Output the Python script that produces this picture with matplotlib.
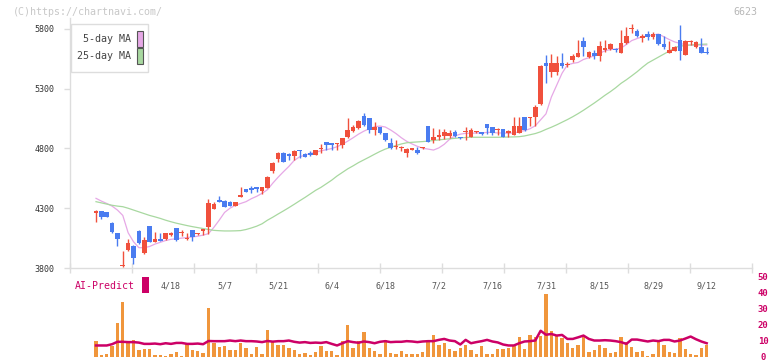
import numpy as np
import matplotlib
matplotlib.use("Agg")
import matplotlib.pyplot as plt
from matplotlib.patches import Rectangle

plt.rcParams['font.family'] = 'DejaVu Sans Mono'

# ---- data ----
date_labels = ['4/18', '5/7', '5/21', '6/4', '6/18', '7/2', '7/16', '7/31', '8/15', '8/29', '9/12']
label_idx = [14, 24, 34, 44, 54, 64, 74, 84, 94, 104, 114]

opens = [4263, 4277, 4266, 4179, 4090, 3814, 3951, 3984, 4110, 3928,
         4151, 4020, 4040, 4040, 4076, 4132, 4093, 4043, 4118, 4082,
         4112, 4145, 4294, 4369, 4360, 4355, 4321, 4398, 4461, 4469,
         4475, 4447, 4472, 4614, 4712, 4765, 4754, 4737, 4782, 4754,
         4759, 4746, 4796, 4853, 4845, 4835, 4829, 4899, 4946, 4969,
         5075, 5053, 4955, 4977, 4927, 4845, 4816, 4800, 4765, 4791,
         4787, 4800, 4988, 4871, 4894, 4907, 4905, 4941, 4890, 4934,
         4899, 4936, 4936, 5005, 4980, 4953, 4961, 4927, 4913, 4933,
         5061, 5055, 5061, 5172, 5518, 5443, 5443, 5518, 5497, 5541,
         5569, 5696, 5569, 5602, 5574, 5628, 5630, 5626, 5602, 5680,
         5798, 5783, 5722, 5756, 5736, 5756, 5674, 5602, 5619, 5708,
         5582, 5692, 5653, 5653, 5606]
closes = [4280, 4229, 4229, 4101, 4045, 3820, 4012, 3881, 4012, 4034,
          4020, 4040, 4030, 4090, 4095, 4034, 4097, 4047, 4062, 4086,
          4124, 4346, 4334, 4355, 4313, 4319, 4350, 4402, 4439, 4453,
          4461, 4475, 4564, 4681, 4765, 4690, 4737, 4779, 4777, 4732,
          4745, 4787, 4800, 4829, 4829, 4839, 4887, 4955, 4982, 5030,
          4997, 4955, 4982, 4927, 4871, 4802, 4820, 4804, 4793, 4795,
          4760, 4804, 4857, 4894, 4913, 4941, 4933, 4907, 4886, 4938,
          4955, 4944, 4919, 4974, 4933, 4963, 4899, 4949, 4988, 4988,
          4955, 5060, 5145, 5490, 5490, 5518, 5518, 5490, 5501, 5574,
          5602, 5648, 5611, 5574, 5657, 5632, 5674, 5622, 5680, 5741,
          5802, 5741, 5741, 5732, 5758, 5672, 5653, 5624, 5653, 5619,
          5702, 5696, 5694, 5602, 5597]
highs = [4282, 4280, 4268, 4182, 4095, 3942, 4040, 3990, 4115, 4062,
         4155, 4100, 4095, 4095, 4105, 4135, 4115, 4090, 4122, 4090,
         4128, 4375, 4355, 4400, 4365, 4360, 4355, 4480, 4465, 4485,
         4480, 4480, 4570, 4690, 4770, 4770, 4760, 4785, 4785, 4760,
         4775, 4790, 4837, 4856, 4848, 4845, 4890, 5054, 5000, 5035,
         5095, 5058, 5024, 4980, 4930, 4887, 4870, 4820, 4800, 4800,
         4810, 4815, 4990, 4970, 4961, 4961, 4955, 4955, 4895, 4982,
         4970, 4950, 4940, 5008, 4983, 4970, 4965, 4952, 5061, 5061,
         5063, 5062, 5164, 5495, 5582, 5591, 5574, 5602, 5520, 5590,
         5704, 5737, 5620, 5625, 5699, 5704, 5680, 5640, 5788, 5813,
         5842, 5800, 5760, 5785, 5775, 5760, 5740, 5700, 5660, 5834,
         5708, 5708, 5700, 5727, 5653]
lows = [4187, 4210, 4225, 4090, 3984, 3806, 3945, 3833, 4005, 3920,
        4015, 4015, 4025, 4035, 4070, 4030, 4070, 4035, 4030, 4080,
        4075, 4084, 4290, 4350, 4310, 4315, 4318, 4390, 4435, 4425,
        4440, 4420, 4468, 4597, 4690, 4685, 4700, 4700, 4718, 4730,
        4740, 4742, 4760, 4790, 4790, 4790, 4800, 4890, 4935, 4960,
        4990, 4927, 4913, 4920, 4865, 4798, 4795, 4780, 4726, 4790,
        4758, 4795, 4855, 4849, 4871, 4880, 4890, 4900, 4880, 4871,
        4895, 4930, 4913, 4919, 4913, 4913, 4895, 4899, 4910, 4930,
        4950, 4988, 4988, 5168, 5346, 5396, 5415, 5473, 5480, 5520,
        5565, 5574, 5560, 5545, 5535, 5610, 5625, 5610, 5598, 5676,
        5764, 5735, 5690, 5710, 5720, 5670, 5630, 5597, 5615, 5541,
        5580, 5665, 5640, 5600, 5590]

ma5 = [4383, 4360, 4340, 4318, 4285, 4240, 4095, 4020, 3970, 3970,
       3980, 4000, 4015, 4030, 4040, 4045, 4050, 4055, 4060, 4066,
       4075, 4088, 4140, 4200, 4265, 4300, 4325, 4340, 4355, 4380,
       4400, 4425, 4455, 4510, 4560, 4606, 4650, 4700, 4730, 4745,
       4758, 4770, 4780, 4790, 4800, 4815, 4835, 4862, 4890, 4920,
       4945, 4965, 4982, 4988, 4980, 4955, 4925, 4890, 4860, 4838,
       4818, 4802, 4795, 4787, 4805, 4835, 4877, 4905, 4920, 4927,
       4927, 4930, 4930, 4935, 4935, 4930, 4930, 4927, 4930, 4940,
       4950, 4965, 4990, 5040, 5090, 5230, 5330, 5430, 5500, 5512,
       5520, 5545, 5560, 5575, 5595, 5618, 5628, 5632, 5640, 5670,
       5703, 5720, 5735, 5742, 5750, 5758, 5735, 5712, 5692, 5680,
       5668, 5665, 5665, 5666, 5666]
ma25 = [4355, 4345, 4335, 4325, 4318, 4313, 4300, 4285, 4270, 4255,
        4240, 4228, 4215, 4200, 4187, 4175, 4165, 4155, 4146, 4138,
        4130, 4122, 4115, 4112, 4110, 4110, 4111, 4113, 4122, 4135,
        4150, 4170, 4200, 4225, 4252, 4278, 4305, 4333, 4362, 4390,
        4420, 4450, 4475, 4505, 4535, 4570, 4600, 4630, 4655, 4682,
        4705, 4728, 4752, 4775, 4795, 4810, 4825, 4838, 4848, 4852,
        4855, 4858, 4862, 4867, 4872, 4877, 4881, 4885, 4889, 4892,
        4894, 4894, 4894, 4894, 4894, 4894, 4895, 4896, 4897, 4899,
        4905, 4915, 4925, 4940, 4960, 4978, 4998, 5020, 5042, 5066,
        5092, 5120, 5150, 5180, 5212, 5245, 5275, 5308, 5345, 5375,
        5408, 5442, 5480, 5515, 5540, 5565, 5590, 5615, 5645, 5656,
        5662, 5666, 5670, 5672, 5674]

ai_bars = [9.7, 1.5, 1.7, 6.6, 21.0, 34.4, 8.6, 10.9, 4.1, 4.8,
           4.8, 1.0, 1.0, 0.4, 1.7, 3.1, 0.6, 8.6, 4.1, 3.5,
           2.5, 30.9, 8.6, 6.2, 6.6, 4.1, 4.1, 8.6, 5.6, 1.7,
           6.2, 1.7, 17.1, 10.3, 7.2, 7.2, 5.6, 4.5, 1.7, 2.5,
           1.0, 3.1, 6.6, 3.5, 3.5, 1.0, 10.3, 20.2, 5.8, 10.3,
           15.4, 5.6, 3.5, 1.7, 10.9, 2.5, 1.7, 3.5, 1.7, 1.7,
           1.7, 3.1, 10.3, 14.0, 7.2, 8.6, 5.2, 3.5, 5.8, 7.8,
           4.1, 1.7, 6.6, 1.7, 1.7, 4.8, 4.8, 5.8, 7.8, 12.3,
           5.2, 14.0, 12.8, 13.4, 39.5, 16.5, 13.4, 11.7, 8.6, 5.6,
           7.2, 12.8, 3.1, 4.1, 7.8, 5.8, 2.5, 3.1, 12.8, 9.3,
           6.2, 3.1, 3.7, 0.4, 1.7, 9.7, 7.2, 3.1, 2.5, 11.7,
           5.2, 1.7, 1.0, 5.8, 7.2]
ai_line = [7.2, 7.2, 7.2, 8.0, 9.5, 9.5, 9.3, 9.3, 9.0, 8.2,
           8.2, 8.4, 8.0, 8.6, 8.2, 8.8, 8.8, 8.2, 8.2, 8.4,
           8.0, 10.0, 9.9, 9.9, 9.9, 10.3, 9.9, 10.3, 9.9, 9.9,
           9.7, 9.3, 10.0, 9.6, 9.9, 9.9, 10.3, 9.5, 9.0, 9.3,
           8.8, 9.0, 8.8, 9.3, 8.2, 7.2, 8.6, 9.9, 9.3, 8.9,
           9.7, 9.3, 8.6, 9.5, 9.9, 9.3, 9.5, 9.5, 9.9, 9.7,
           9.3, 9.7, 9.9, 9.9, 10.7, 11.3, 10.3, 9.9, 7.8, 10.7,
           8.6, 9.3, 9.9, 10.7, 9.7, 9.1, 7.8, 7.2, 7.2, 8.6,
           9.7, 9.9, 10.3, 16.4, 13.9, 14.4, 13.4, 13.8, 11.3, 11.3,
           12.3, 13.4, 11.3, 10.3, 10.3, 10.5, 10.3, 9.9, 9.3, 8.2,
           10.9, 10.9, 10.3, 9.7, 10.3, 9.9, 10.7, 10.7, 9.7, 10.3,
           11.5, 12.8, 11.1, 9.7, 8.6]

# ---- styling ----
UP = '#f0503c'
DOWN = '#4a7cf0'
C_MA5 = '#e6a8e6'
C_MA25 = '#a8d8a0'
C_BAR = '#f0963c'
C_AI = '#cc0066'
GRID = '#dddddd'

W, H = 772, 361
fig = plt.figure(figsize=(W / 100, H / 100), dpi=100)

x = np.arange(len(closes))
xlim = ((70 - 96) / 5.357, (752 - 96) / 5.357)

# lower AI-Predict panel (drawn first, transparent background)
ax2 = fig.add_axes([70 / W, 1 - 357 / H, 682 / W, 80 / H])
ax2.patch.set_visible(False)
ax2.set_xlim(*xlim)
ax2.set_ylim(0, 50)
ax2.bar(x, ai_bars, width=0.62, color=C_BAR, linewidth=0, zorder=2)
ax2.plot(x, ai_line, color=C_AI, linewidth=1.8, zorder=3)
for s in ax2.spines.values():
    s.set_visible(False)
ax2.set_xticks([])
ax2.yaxis.tick_right()
ax2.set_yticks([0, 10, 20, 30, 40, 50])
ax2.tick_params(axis='y', length=0, labelsize=6.5, labelcolor=C_AI, pad=8)
for lab in ax2.get_yticklabels():
    lab.set_horizontalalignment('center')
    lab.set_fontweight('bold')

# main price panel
ax = fig.add_axes([70 / W, 1 - 268 / H, 682 / W, 250 / H])
ax.patch.set_visible(False)
ax.set_xlim(*xlim)
ax.set_ylim(3800, 3800 + 250 / 0.1195)

o = np.array(opens)
c = np.array(closes)
up = c >= o
colors = np.where(up, UP, DOWN)
ax.vlines(x, lows, highs, colors=colors, linewidth=1, zorder=3)
body_low = np.minimum(o, c)
body_h = np.maximum(np.abs(c - o), 9)
ax.bar(x, body_h, bottom=body_low, width=0.86, color=colors, linewidth=0, zorder=4)

ax.plot(x, ma5, color=C_MA5, linewidth=0.9, zorder=2)
ax.plot(x, ma25, color=C_MA25, linewidth=0.9, zorder=2)

for s in ['top', 'right']:
    ax.spines[s].set_visible(False)
for s in ['left', 'bottom']:
    ax.spines[s].set_color(GRID)
    ax.spines[s].set_linewidth(1)

ax.set_yticks([3800, 4300, 4800, 5300, 5800])
ax.tick_params(axis='y', direction='out', length=4, width=1, color=GRID,
               labelsize=6, labelcolor='#333333', pad=7)
ax.set_xticks(x[label_idx])
ax.set_xticklabels(date_labels)
ax.tick_params(axis='x', length=0, labelsize=6, labelcolor='#555555', pad=10)
ax.set_xticks(xlim[0] + np.arange(12) * 62 / 5.357, minor=True)
ax.tick_params(axis='x', which='minor', direction='inout', length=7, width=1, color=GRID)

# legend box
fig.patches.append(Rectangle((70.5 / W, 1 - 71.5 / H), 77.5 / W, 47.5 / H,
                             transform=fig.transFigure, facecolor='white',
                             edgecolor=GRID, linewidth=1, zorder=5))
fig.text(131 / W, 1 - 39 / H, '5-day MA', ha='right', va='center', fontsize=7.2,
         color='#444444', zorder=6)
fig.text(131 / W, 1 - 56 / H, '25-day MA', ha='right', va='center', fontsize=7.2,
         color='#444444', zorder=6)
fig.patches.append(Rectangle((136.5 / W, 1 - 46.5 / H), 6 / W, 15 / H,
                             transform=fig.transFigure, facecolor=C_MA5,
                             edgecolor='#555555', linewidth=0.8, zorder=6))
fig.patches.append(Rectangle((136.5 / W, 1 - 63.5 / H), 6 / W, 15 / H,
                             transform=fig.transFigure, facecolor=C_MA25,
                             edgecolor='#555555', linewidth=0.8, zorder=6))

# watermark and code
fig.text(13 / W, 1 - 12 / H, '(C)https://chartnavi.com/', fontsize=7.2,
         color='#c8c8c8', va='center', ha='left')
fig.text(757 / W, 1 - 12 / H, '6623', fontsize=7.2, color='#b8b8b8',
         va='center', ha='right')

fig.text(75 / W, 1 - 286 / H, 'AI-Predict', fontsize=7.1, color=C_AI,
         va='center', ha='left')
fig.patches.append(Rectangle((142 / W, 1 - 293 / H), 6.5 / W, 16.5 / H,
                             transform=fig.transFigure, facecolor=C_AI,
                             edgecolor='none'))

fig.savefig('out.png', dpi=100)
